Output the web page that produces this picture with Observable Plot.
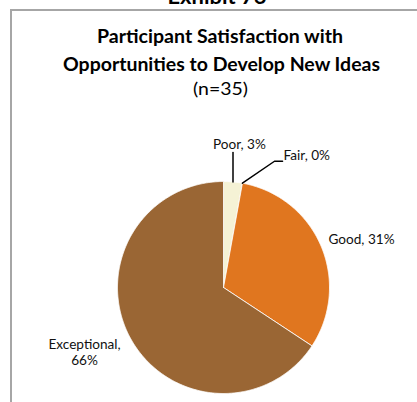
<!DOCTYPE html>
<html><head><meta charset="utf-8">
<script src="https://cdn.jsdelivr.net/npm/d3@7"></script>
<script src="https://cdn.jsdelivr.net/npm/@observablehq/plot@0.6"></script>
<style>
body{margin:0;background:#fff;}
#wrap{position:relative;width:417px;height:402px;overflow:hidden;background:#fff;}
#frame{position:absolute;left:10px;top:9px;width:420px;height:400px;border-left:2px solid #a6a6a6;border-top:2px solid #a6a6a6;}
#chart{position:absolute;left:0;top:0;}
</style></head><body>
<div id="wrap"><div id="frame"></div><div id="chart"></div></div>
<script>
// ---- data ----
const exhibit = "Exhibit 76";
const titleLines = ["Participant Satisfaction with", "Opportunities to Develop New Ideas"];
const subtitle = "(n=35)";
const categories = ["Poor", "Fair", "Good", "Exceptional"];
const counts = [1, 0, 11, 23];          // n = 35
const percentLabels = ["3%", "0%", "31%", "66%"];
const colors = ["#f5f2d5", "#d9d9d9", "#e0761f", "#9a6634"];

// ---- layout (not data) ----
const cx = 223, cy = 287, R = 106;
const labelLayout = {
  Poor:        {ux: 0.15,  uy: 1.355, anchor: "middle", text: d => `${d.cat}, ${d.pct}`, leader: "vertical", top: 1.274},
  Fair:        {ux: 0.566, uy: 1.245, anchor: "start",  text: d => `${d.cat}, ${d.pct}`, leader: "elbow", elbow: [0.481, 1.191], end: [0.557, 1.191]},
  Good:        {ux: 1.302, uy: 0.462, anchor: "middle", text: d => `${d.cat}, ${d.pct}`},
  Exceptional: {ux: -1.311, uy: -0.604, anchor: "middle", text: d => `${d.cat},\n${d.pct}`}
};

const rows = categories.map((cat, i) => ({cat, value: counts[i], pct: percentLabels[i]}));
const arcs = d3.pie().value(d => d.value).sort(null)(rows);

// slice outlines
const slicePts = [];
arcs.filter(a => a.endAngle - a.startAngle > 0).forEach(a => {
  slicePts.push({cat: a.data.cat, x: 0, y: 0});
  const n = Math.max(2, Math.ceil((a.endAngle - a.startAngle) / 0.01));
  for (let k = 0; k <= n; k++) {
    const t = a.startAngle + (a.endAngle - a.startAngle) * k / n;
    slicePts.push({cat: a.data.cat, x: Math.sin(t), y: Math.cos(t)});
  }
  slicePts.push({cat: a.data.cat, x: 0, y: 0});
});

// labels
const labels = arcs.map(a => {
  const L = labelLayout[a.data.cat];
  return {cat: a.data.cat, x: L.ux, y: L.uy, anchor: L.anchor, text: L.text(a.data)};
});

// leaders
const leaderPts = [];
arcs.forEach(a => {
  const L = labelLayout[a.data.cat];
  const m = (a.startAngle + a.endAngle) / 2;
  if (L.leader === "vertical") {
    leaderPts.push({cat: a.data.cat, x: Math.sin(m), y: Math.cos(m)});
    leaderPts.push({cat: a.data.cat, x: Math.sin(m), y: L.top});
  } else if (L.leader === "elbow") {
    leaderPts.push({cat: a.data.cat, x: Math.sin(m), y: Math.cos(m)});
    leaderPts.push({cat: a.data.cat, x: L.elbow[0], y: L.elbow[1]});
    leaderPts.push({cat: a.data.cat, x: L.end[0], y: L.end[1]});
  }
});

const svg = Plot.plot({
  width: 417, height: 402,
  margin: 0,
  style: {fontFamily: "Lato, 'Open Sans', sans-serif", fontSize: "13px", background: "transparent", overflow: "visible"},
  x: {domain: [-1, 1], range: [cx - R, cx + R], axis: null},
  y: {domain: [-1, 1], range: [cy + R, cy - R], axis: null},
  color: {domain: categories, range: colors},
  marks: [
    Plot.line(slicePts, {x: "x", y: "y", z: "cat", fill: "cat", stroke: "white", strokeWidth: 0.8, curve: "linear"}),
    Plot.line(leaderPts, {x: "x", y: "y", z: "cat", stroke: "#000", strokeWidth: 1.5}),
    Plot.text(labels.filter(d => d.anchor === "middle"), {x: "x", y: "y", text: "text", textAnchor: "middle", lineAnchor: "middle", lineHeight: 1.2, fill: "#111", fontSize: 13.6}),
    Plot.text(labels.filter(d => d.anchor === "start"), {x: "x", y: "y", text: "text", textAnchor: "start", lineAnchor: "middle", fill: "#111", fontSize: 13.6})
  ]
});

// titles as real SVG text
const ns = "http://www.w3.org/2000/svg";
const titleSpecs = [
  {text: exhibit,       x: 217,   y: 4,    size: 20, weight: 700, len: 99},
  {text: titleLines[0], x: 220,   y: 42.5, size: 18.5, weight: 700, len: 246},
  {text: titleLines[1], x: 221.5, y: 71.3, size: 18.5, weight: 700, len: 317},
  {text: subtitle,      x: 220.5, y: 95,   size: 17, weight: 400, len: 55}
];
const g = document.createElementNS(ns, "g");
titleSpecs.forEach(s => {
  const t = document.createElementNS(ns, "text");
  t.setAttribute("x", s.x);
  t.setAttribute("y", s.y);
  t.setAttribute("text-anchor", "middle");
  t.setAttribute("font-size", s.size);
  t.setAttribute("font-weight", s.weight);
  t.setAttribute("fill", "#000");
  t.setAttribute("textLength", s.len);
  t.setAttribute("lengthAdjust", "spacingAndGlyphs");
  t.textContent = s.text;
  g.appendChild(t);
});
svg.appendChild(g);
document.getElementById("chart").appendChild(svg);
</script>
</body></html>
